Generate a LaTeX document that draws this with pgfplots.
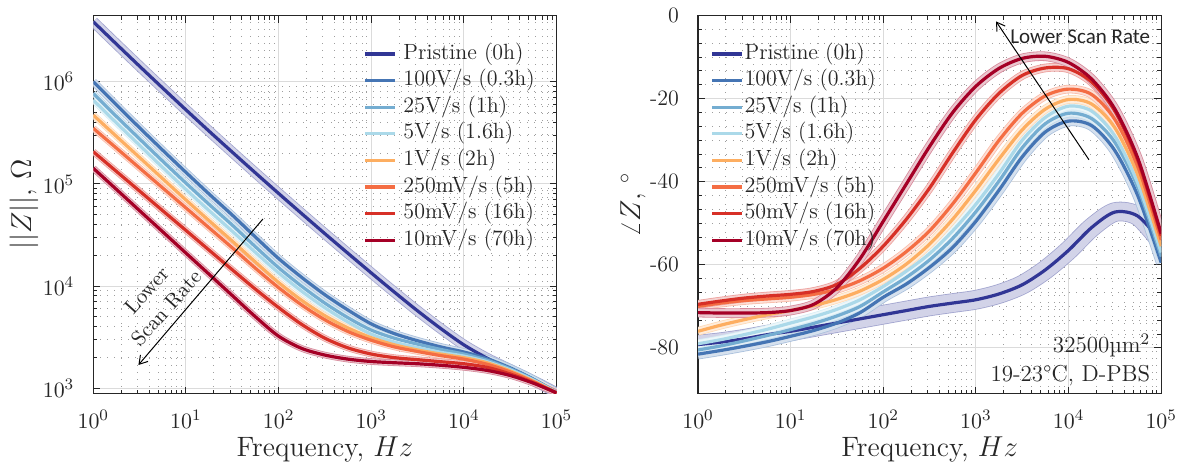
\documentclass[border=0pt]{standalone}
\usepackage{pgfplots}
\pgfplotsset{compat=1.18}
\usepackage{pgfplotstable}
\usepackage{fontspec}
\newfontfamily\carlito{Carlito}
\usetikzlibrary{arrows.meta}

\definecolor{cPri}{RGB}{49,54,149}
\definecolor{cA}{RGB}{69,117,180}
\definecolor{cB}{RGB}{116,173,209}
\definecolor{cC}{RGB}{171,217,233}
\definecolor{cD}{RGB}{253,174,97}
\definecolor{cE}{RGB}{244,109,67}
\definecolor{cF}{RGB}{215,48,39}
\definecolor{cG}{RGB}{165,0,38}
\definecolor{txt}{RGB}{38,38,38}

\pgfplotstableread{
f      pri      va      vb      vc      vd      ve      vf      vg
1      3.864e6  1.000e6 7.691e5 6.607e5 4.710e5 3.499e5 2.065e5 1.422e5
1.778  2.333e6  5.929e5 4.571e5 3.954e5 2.917e5 2.239e5 1.324e5 8.831e4
3.162  1.416e6  3.540e5 2.754e5 2.388e5 1.811e5 1.429e5 8.511e4 5.470e4
5.623  8.650e5  2.133e5 1.667e5 1.445e5 1.122e5 9.120e4 5.458e4 3.396e4
10     5.309e5  1.297e5 1.019e5 8.831e4 6.966e4 5.821e4 3.508e4 2.104e4
17.78  3.281e5  7.962e4 6.310e4 5.483e4 4.365e4 3.715e4 2.249e4 1.306e4
31.62  2.046e5  4.955e4 3.954e4 3.443e4 2.754e4 2.371e4 1.445e4 8091
56.23  1.282e5  3.020e4 2.427e4 2.138e4 1.718e4 1.496e4 9333    5012
100    8.072e4  1.862e4 1.514e4 1.349e4 1.084e4 9661    6166    3236
177.8  5.117e4  1.216e4 9954    8913    7244    6531    4217    2455
316.2  3.258e4  8222    6808    6138    5129    4677    3090    2113
562.3  2.089e4  5821    4898    4446    3890    3589    2483    1928
1000   1.346e4  4266    3715    3388    3126    2951    2163    1828
1778   8730     3428    3090    2831    2661    2541    1995    1778
3162   5728     2917    2704    2500    2371    2291    1905    1738
5623   3846     2541    2399    2249    2163    2089    1820    1679
10000  2661     2265    2163    2065    1995    1928    1738    1603
17783  1972     1950    1884    1820    1778    1718    1603    1496
31623  1531     1585    1549    1514    1479    1445    1380    1334
56234  1189     1230    1216    1202    1175    1161    1135    1122
100000 908      912     912     912     902     902     902     902
}\magtable

\pgfplotstableread{
f      pri   va    vb    vc    vd    ve    vf    vg
1      -79.2 -81.5 -80.5 -79.0 -76.0 -70.0 -69.5 -71.5
1.778  -78.6 -80.6 -79.5 -78.0 -74.5 -69.2 -68.7 -71.6
3.162  -77.8 -79.6 -78.3 -76.8 -73.2 -68.6 -68.0 -71.6
5.623  -76.8 -78.5 -77.0 -75.5 -72.0 -68.2 -67.5 -71.5
10     -76.0 -77.2 -75.6 -74.0 -71.0 -67.8 -67.1 -71.0
17.78  -75.0 -75.8 -74.1 -72.5 -69.8 -67.1 -66.4 -69.5
31.62  -74.0 -74.0 -72.3 -70.7 -68.3 -65.9 -64.7 -65.5
56.23  -73.0 -71.5 -70.0 -68.4 -66.3 -63.8 -60.8 -58.5
100    -72.0 -67.8 -66.5 -65.2 -63.5 -60.8 -55.5 -49.5
177.8  -71.0 -64.6 -63.0 -61.5 -59.8 -56.8 -49.0 -40.5
316.2  -70.0 -60.6 -58.8 -57.3 -55.0 -51.8 -41.5 -31.5
562.3  -69.2 -55.8 -53.6 -51.8 -49.0 -45.3 -33.0 -23.3
1000   -68.4 -49.5 -47.2 -45.4 -42.0 -37.8 -25.0 -17.0
1778   -67.0 -42.0 -39.8 -38.0 -34.5 -30.0 -18.7 -12.7
3162   -64.8 -34.0 -31.8 -30.0 -27.5 -23.5 -14.4 -10.3
5623   -61.2 -28.0 -26.0 -24.5 -22.5 -19.3 -12.6 -9.8
10000  -56.5 -25.4 -23.5 -21.8 -20.2 -17.7 -12.8 -11.3
17783  -51.0 -26.5 -24.8 -23.0 -21.3 -19.0 -16.0 -15.3
31623  -47.3 -32.5 -30.5 -29.0 -27.0 -25.0 -23.0 -22.5
56234  -48.3 -43.5 -41.5 -40.5 -38.5 -36.5 -35.0 -34.5
100000 -54.5 -59.5 -58.0 -57.0 -55.5 -54.0 -53.0 -52.5
}\phasetable

\begin{document}
\begin{tikzpicture}
\useasboundingbox (0,0) rectangle (588.5pt,231pt);

% ---------------- Left: magnitude ----------------
\begin{axis}[
  scale only axis, width=231.6pt, height=189pt, anchor=south west,
  at={(46.65pt,34.2pt)},
  xmode=log, ymode=log, xmin=1, xmax=1e5, ymin=887, ymax=4.436e6,
  xtick={1,10,100,1000,10000,100000},
  ytick={1e3,1e4,1e5,1e6},
  grid=both,
  major grid style={color=black!14, line width=0.5pt},
  minor grid style={color=black!38, line width=0.5pt, dash pattern=on 0.5pt off 3pt},
  tick align=inside, major tick length=3.5pt, minor tick length=2pt,
  tick style={color=black!85, line width=0.5pt},
  axis line style={color=black!85, line width=0.6pt},
  ticklabel style={font=\fontsize{11}{13}\selectfont, color=txt},
  xticklabel style={yshift=-5pt},
  yticklabel style={xshift=-6pt},
  label style={font=\fontsize{14}{16}\selectfont, color=txt},
  xlabel={Frequency, $Hz$},
  ylabel={$||Z||$, $\Omega$},
  xlabel style={at={(axis description cs:0.5,-0.166)}, anchor=base},
  ylabel style={at={(axis description cs:-0.1495,0.5)}, rotate=0, anchor=center},
  legend cell align=left,
  legend image code/.code={\draw[#1, line width=1.6pt] (0pt,0pt) -- (15pt,0pt);},
  legend style={draw=none, fill=none, anchor=north west, at={(0.582,0.926)},
    font=\fontsize{11}{13}\selectfont, text=txt, inner sep=0pt, row sep=3.3pt, column sep=3.5pt,
    nodes={inner sep=0pt, text height=7.6pt, text depth=2.4pt}},
]
\addplot[forget plot, smooth, line width=0.4pt, draw=cPri!45!white, double=cPri!22!white, double distance=4.5pt] table[x=f,y=pri]{\magtable};
\addplot[forget plot, smooth, line width=0.4pt, draw=cA!45!white, double=cA!22!white, double distance=3pt] table[x=f,y=va]{\magtable};
\addplot[forget plot, smooth, line width=0.4pt, draw=cB!45!white, double=cB!22!white, double distance=2.5pt] table[x=f,y=vb]{\magtable};
\addplot[forget plot, smooth, line width=0.4pt, draw=cC!45!white, double=cC!22!white, double distance=2.5pt] table[x=f,y=vc]{\magtable};
\addplot[forget plot, smooth, line width=0.4pt, draw=cD!45!white, double=cD!22!white, double distance=2.5pt] table[x=f,y=vd]{\magtable};
\addplot[forget plot, smooth, line width=0.4pt, draw=cE!45!white, double=cE!22!white, double distance=2.5pt] table[x=f,y=ve]{\magtable};
\addplot[forget plot, smooth, line width=0.4pt, draw=cF!45!white, double=cF!22!white, double distance=2.5pt] table[x=f,y=vf]{\magtable};
\addplot[forget plot, smooth, line width=0.4pt, draw=cG!45!white, double=cG!22!white, double distance=2.5pt] table[x=f,y=vg]{\magtable};
\addplot[smooth, line width=1.6pt, color=cPri] table[x=f,y=pri]{\magtable};
\addplot[smooth, line width=1.6pt, color=cA] table[x=f,y=va]{\magtable};
\addplot[smooth, line width=1.6pt, color=cB] table[x=f,y=vb]{\magtable};
\addplot[smooth, line width=1.6pt, color=cC] table[x=f,y=vc]{\magtable};
\addplot[smooth, line width=1.6pt, color=cD] table[x=f,y=vd]{\magtable};
\addplot[smooth, line width=1.6pt, color=cE] table[x=f,y=ve]{\magtable};
\addplot[smooth, line width=1.6pt, color=cF] table[x=f,y=vf]{\magtable};
\addplot[smooth, line width=1.6pt, color=cG] table[x=f,y=vg]{\magtable};
\legend{Pristine (0h),100V/s (0.3h),25V/s (1h),5V/s (1.6h),1V/s (2h),250mV/s (5h),50mV/s (16h),10mV/s (70h)}
\draw[-{Straight Barb[length=4pt,width=5pt]}, line width=0.5pt, black] (axis cs:67.7,4.53e4) -- (axis cs:3.07,1690);
\node[rotate=48, align=center, font=\fontsize{10.5}{13.2}\selectfont, text=txt] at (axis cs:4.8,7450) {Lower\\Scan Rate};
\end{axis}

% ---------------- Right: phase ----------------
\begin{axis}[
  scale only axis, width=231.6pt, height=189pt, anchor=south west,
  at={(349pt,34.2pt)},
  xmode=log, xmin=1, xmax=1e5, ymin=-91, ymax=0,
  xtick={1,10,100,1000,10000,100000},
  ytick={-80,-60,-40,-20,0}, yticklabels={-80,-60,-40,-20,0},
  minor y tick num=5,
  grid=both,
  major grid style={color=black!14, line width=0.5pt},
  minor grid style={color=black!38, line width=0.5pt, dash pattern=on 0.5pt off 3pt},
  tick align=inside, major tick length=3.5pt, minor tick length=2pt,
  tick style={color=black!85, line width=0.5pt},
  axis line style={color=black!85, line width=0.6pt},
  ticklabel style={font=\fontsize{11}{13}\selectfont, color=txt},
  xticklabel style={yshift=-5pt},
  yticklabel style={xshift=-6pt},
  label style={font=\fontsize{14}{16}\selectfont, color=txt},
  xlabel={Frequency, $Hz$},
  ylabel={$\angle Z$, $^{\circ}$},
  xlabel style={at={(axis description cs:0.5,-0.166)}, anchor=base},
  ylabel style={at={(axis description cs:-0.1404,0.5)}, rotate=0, anchor=center},
  legend cell align=left,
  legend image code/.code={\draw[#1, line width=1.6pt] (0pt,0pt) -- (15pt,0pt);},
  legend style={draw=none, fill=none, anchor=north west, at={(0.026,0.926)},
    font=\fontsize{11}{13}\selectfont, text=txt, inner sep=0pt, row sep=3.3pt, column sep=0.5pt,
    nodes={inner sep=0pt, text height=7.6pt, text depth=2.4pt}},
]
\addplot[forget plot, smooth, line width=0.4pt, draw=cPri!45!white, double=cPri!22!white, double distance=9pt] table[x=f,y=pri]{\phasetable};
\addplot[forget plot, smooth, line width=0.4pt, draw=cA!45!white, double=cA!22!white, double distance=4.5pt] table[x=f,y=va]{\phasetable};
\addplot[forget plot, smooth, line width=0.4pt, draw=cB!45!white, double=cB!22!white, double distance=3.5pt] table[x=f,y=vb]{\phasetable};
\addplot[forget plot, smooth, line width=0.4pt, draw=cC!45!white, double=cC!22!white, double distance=3.5pt] table[x=f,y=vc]{\phasetable};
\addplot[forget plot, smooth, line width=0.4pt, draw=cD!45!white, double=cD!22!white, double distance=3.5pt] table[x=f,y=vd]{\phasetable};
\addplot[forget plot, smooth, line width=0.4pt, draw=cE!45!white, double=cE!22!white, double distance=3.5pt] table[x=f,y=ve]{\phasetable};
\addplot[forget plot, smooth, line width=0.4pt, draw=cF!45!white, double=cF!22!white, double distance=3.5pt] table[x=f,y=vf]{\phasetable};
\addplot[forget plot, smooth, line width=0.4pt, draw=cG!45!white, double=cG!22!white, double distance=4pt] table[x=f,y=vg]{\phasetable};
\addplot[smooth, line width=1.6pt, color=cPri] table[x=f,y=pri]{\phasetable};
\addplot[smooth, line width=1.6pt, color=cA] table[x=f,y=va]{\phasetable};
\addplot[smooth, line width=1.6pt, color=cB] table[x=f,y=vb]{\phasetable};
\addplot[smooth, line width=1.6pt, color=cC] table[x=f,y=vc]{\phasetable};
\addplot[smooth, line width=1.6pt, color=cD] table[x=f,y=vd]{\phasetable};
\addplot[smooth, line width=1.6pt, color=cE] table[x=f,y=ve]{\phasetable};
\addplot[smooth, line width=1.6pt, color=cF] table[x=f,y=vf]{\phasetable};
\addplot[smooth, line width=1.6pt, color=cG] table[x=f,y=vg]{\phasetable};
\legend{Pristine (0h),100V/s (0.3h),25V/s (1h),5V/s (1.6h),1V/s (2h),250mV/s (5h),50mV/s (16h),10mV/s (70h)}
\draw[-{Straight Barb[length=4pt,width=5pt]}, line width=0.5pt, black] (axis cs:1.66e4,-34.7) -- (axis cs:1.65e3,-1.4);
\node[anchor=east, font=\carlito\fontsize{10.5}{12}\selectfont, text=txt] at (axis cs:9.06e4,-5.2) {Lower Scan Rate};
\node[anchor=east, font=\fontsize{11.5}{13}\selectfont, text=txt] at (axis cs:9.06e4,-79.4) {32500µm\textsuperscript{2}};
\node[anchor=east, font=\fontsize{11.5}{13}\selectfont, text=txt] at (axis cs:9.06e4,-86.7) {19-23°C, D-PBS};
\end{axis}
\end{tikzpicture}
\end{document}
